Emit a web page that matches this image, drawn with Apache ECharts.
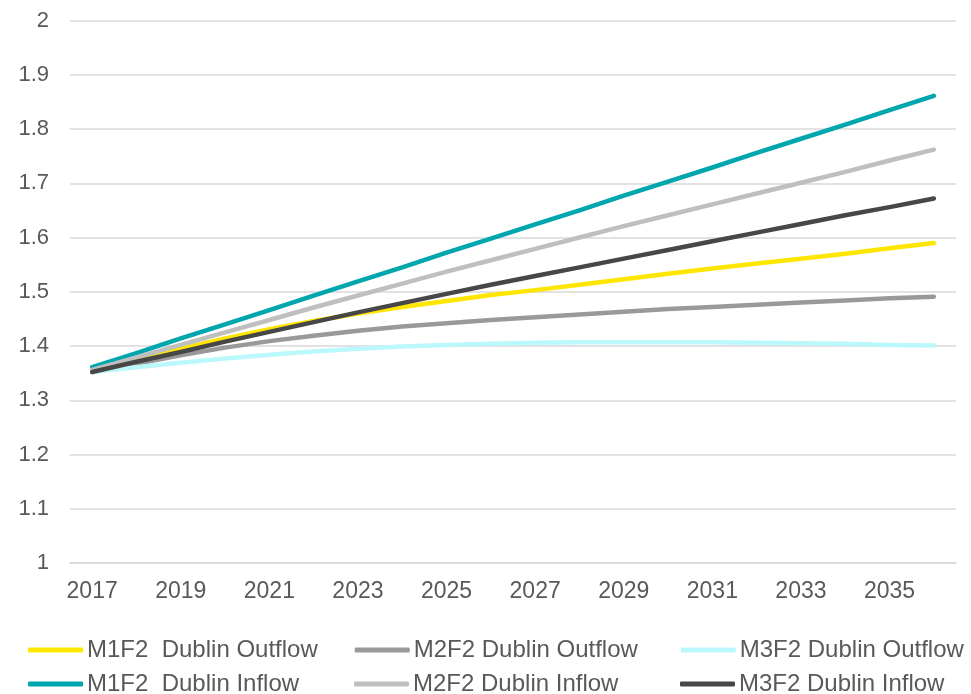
<!DOCTYPE html>
<html>
<head>
<meta charset="utf-8">
<script src="https://cdn.jsdelivr.net/npm/echarts@6/dist/echarts.min.js"></script>
<style>
  html, body { margin: 0; padding: 0; background: #fff; }
  #main { width: 971px; height: 694px; }
</style>
</head>
<body>
<div id="main"></div>
<script>
// years on the category axis
var years = ['2017','2018','2019','2020','2021','2022','2023','2024','2025','2026',
             '2027','2028','2029','2030','2031','2032','2033','2034','2035','2036'];

// series values
var m1f2Out = [1.352,1.373,1.395,1.414,1.431,1.446,1.460,1.472,1.483,1.494,1.503,1.513,1.523,1.533,1.543,1.552,1.561,1.570,1.580,1.590];
var m2f2Out = [1.352,1.367,1.383,1.397,1.409,1.419,1.428,1.436,1.442,1.448,1.453,1.458,1.463,1.468,1.472,1.476,1.480,1.484,1.488,1.491];
var m3f2Out = [1.352,1.361,1.369,1.377,1.384,1.390,1.395,1.399,1.402,1.404,1.406,1.407,1.407,1.407,1.407,1.406,1.405,1.404,1.402,1.401];
var m1f2In  = [1.361,1.387,1.414,1.440,1.466,1.493,1.519,1.545,1.572,1.598,1.624,1.650,1.677,1.703,1.729,1.756,1.782,1.808,1.835,1.861];
var m2f2In  = [1.356,1.379,1.402,1.425,1.448,1.471,1.493,1.515,1.537,1.558,1.579,1.600,1.621,1.641,1.661,1.681,1.701,1.721,1.742,1.762];
var m3f2In  = [1.352,1.371,1.389,1.408,1.426,1.444,1.462,1.479,1.496,1.513,1.529,1.545,1.561,1.577,1.593,1.609,1.625,1.641,1.656,1.672];

var names = ['M1F2  Dublin Outflow','M2F2 Dublin Outflow','M3F2 Dublin Outflow',
             'M1F2  Dublin Inflow','M2F2 Dublin Inflow','M3F2 Dublin Inflow'];
var colors = ['#FFE600','#999999','#BAF8FB','#00A6AE','#BFBFBF','#474747'];
var values = [m1f2Out, m2f2Out, m3f2Out, m1f2In, m2f2In, m3f2In];

var font = 'Liberation Sans, Arial, sans-serif';

var series = names.map(function (n, i) {
  return {
    name: n,
    type: 'line',
    data: values[i],
    symbol: 'none',
    color: colors[i],
    lineStyle: { width: 4.5, color: colors[i], cap: 'round', join: 'round' },
    emphasis: { disabled: true }
  };
});

function legendRow(top, list) {
  return {
    data: list,
    top: top,
    left: 28,
    width: 1000,
    padding: 0,
    orient: 'horizontal',
    icon: 'roundRect',
    itemWidth: 55,
    itemHeight: 5,
    itemGap: 37,
    selectedMode: false,
    textStyle: { fontFamily: font, fontSize: 24, color: '#595959', width: 230, lineHeight: 24, padding: [0, 0, 0, -1] }
  };
}

var chart = echarts.init(document.getElementById('main'));
chart.setOption({
  animation: false,
  backgroundColor: '#fff',
  grid: { left: 70, right: 15, top: 20.5, bottom: 131, containLabel: false },
  legend: [
    legendRow(638, names.slice(0, 3)),
    legendRow(672, names.slice(3, 6))
  ],
  xAxis: {
    type: 'category',
    data: years,
    boundaryGap: true,
    axisLine: { show: true, lineStyle: { color: '#D9D9D9', width: 1.5 } },
    axisTick: { show: false },
    axisLabel: { interval: 1, margin: 17, fontFamily: font, fontSize: 23, color: '#595959' },
    splitLine: { show: false }
  },
  yAxis: {
    type: 'value',
    min: 1,
    max: 2,
    interval: 0.1,
    axisLine: { show: false },
    axisTick: { show: false },
    axisLabel: { margin: 21, fontFamily: font, fontSize: 22, color: '#595959' },
    splitLine: { lineStyle: { color: '#D9D9D9', width: 1.5 } }
  },
  series: series
});
</script>
</body>
</html>
